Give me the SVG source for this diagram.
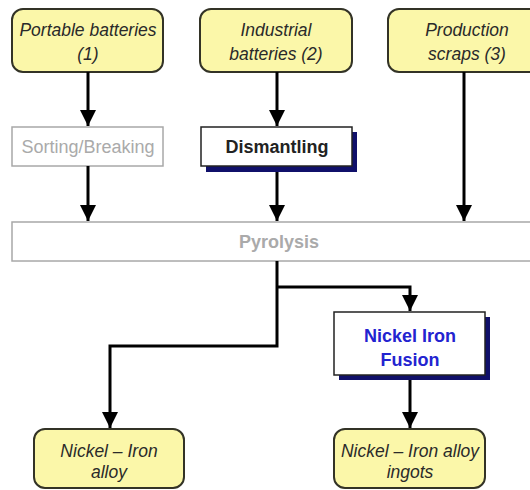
<svg xmlns="http://www.w3.org/2000/svg" width="530" height="490" viewBox="0 0 530 490">
<defs>
<marker id="ah" markerUnits="userSpaceOnUse" markerWidth="16" markerHeight="16" refX="16" refY="8" orient="auto">
<path d="M0,0 L16,8 L0,16 Z" fill="#000"/>
</marker>
<style>
.src{fill:#fbf7a9;stroke:#333326;stroke-width:2}
.it{font-family:"Liberation Sans",Arial,sans-serif;font-size:17.5px;font-style:italic;fill:#2a2a2a;text-anchor:middle}
.gray{fill:#fff;stroke:#a8a8a8;stroke-width:1.5}
.gt{font-family:"Liberation Sans",Arial,sans-serif;font-size:18px;fill:#aaaaaa;text-anchor:middle}
.proc{fill:#fff;stroke:#222;stroke-width:1.5}
.shadow{fill:#10106a}
.bt{font-family:"Liberation Sans",Arial,sans-serif;font-size:18px;font-weight:bold;text-anchor:middle}
.conn{fill:none;stroke:#000;stroke-width:3;marker-end:url(#ah)}
</style>
</defs>
<rect width="530" height="490" fill="#fff"/>
<g id="portable">
<rect class="src" x="12" y="9" width="151" height="63" rx="11"/>
<text class="it" x="88" y="36">Portable batteries</text>
<text class="it" x="88" y="60">(1)</text>
</g>
<g id="industrial">
<rect class="src" x="200" y="9" width="152" height="63" rx="11"/>
<text class="it" x="276" y="36">Industrial</text>
<text class="it" x="276" y="60">batteries (2)</text>
</g>
<g id="scraps">
<rect class="src" x="388" y="9" width="158" height="63" rx="11"/>
<text class="it" x="467" y="36">Production</text>
<text class="it" x="467" y="60">scraps (3)</text>
</g>
<g id="sorting">
<rect class="gray" x="12" y="127" width="151" height="39"/>
<text class="gt" x="88" y="153">Sorting/Breaking</text>
</g>
<g id="dismantling">
<rect class="shadow" x="206" y="132" width="151" height="40"/>
<rect class="proc" x="201" y="127" width="151" height="39"/>
<text class="bt" x="277" y="153" fill="#222">Dismantling</text>
</g>
<g id="pyrolysis">
<rect class="gray" x="12" y="222" width="535" height="39"/>
<text class="bt" x="279" y="248" fill="#aaaaaa">Pyrolysis</text>
</g>
<g id="fusion">
<rect class="shadow" x="339" y="317" width="151" height="63"/>
<rect class="proc" x="334" y="312" width="151" height="63"/>
<text class="bt" x="410" y="342" fill="#2323d0" font-size="17">Nickel Iron</text>
<text class="bt" x="410" y="366" fill="#2323d0" font-size="17">Fusion</text>
</g>
<g id="alloy">
<rect class="src" x="34" y="429" width="150" height="59" rx="11"/>
<text class="it" x="109" y="457">Nickel – Iron</text>
<text class="it" x="109" y="478">alloy</text>
</g>
<g id="ingots">
<rect class="src" x="334" y="429" width="151" height="59" rx="11"/>
<text class="it" x="410" y="457">Nickel – Iron alloy</text>
<text class="it" x="410" y="478">ingots</text>
</g>
<g id="connectors">
<path class="conn" d="M88,72 V126"/>
<path class="conn" d="M88,166 V221"/>
<path class="conn" d="M277,72 V126"/>
<path class="conn" d="M277,172 V221"/>
<path class="conn" d="M464,72 V221"/>
<path class="conn" d="M277,261 V346 H110 V428"/>
<path class="conn" d="M277,287 H410 V311"/>
<path class="conn" d="M410,380 V428"/>
</g>
</svg>
